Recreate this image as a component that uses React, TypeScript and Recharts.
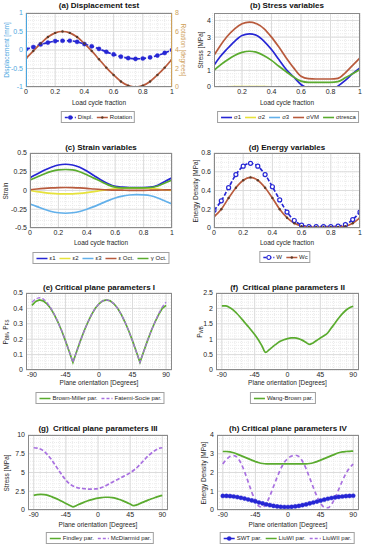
import React from 'react';
import { LineChart, Line, XAxis, YAxis, CartesianGrid } from 'recharts';

const FONT = '"Liberation Sans", Arial, Helvetica, sans-serif';
const INK = '#262626';
const BLUE = '#2626d4';
const BROWN = '#b85a3c';
const GREEN = '#5aab2e';
const YELLOW = '#e6e23a';
const CYAN = '#62b0ea';
const PURPLE = '#a870e0';

// load cycle samples
const cycleX = [0, 0.05, 0.1, 0.15, 0.2, 0.25, 0.3, 0.35, 0.4, 0.45, 0.5, 0.55, 0.6, 0.65, 0.7, 0.75, 0.8, 0.85, 0.9, 0.95, 1];
const cycleXb = [0.01, 0.05, 0.1, 0.15, 0.2, 0.25, 0.3, 0.35, 0.4, 0.45, 0.5, 0.55, 0.6, 0.65, 0.7, 0.75, 0.8, 0.85, 0.9, 0.95, 1];

// (a)
const displ = [0.02, 0.08, 0.15, 0.2, 0.24, 0.25, 0.25, 0.22, 0.16, 0.1, 0.03, -0.05, -0.12, -0.18, -0.22, -0.24, -0.23, -0.2, -0.15, -0.08, 0.0];
const rotation = [3.1, 3.9, 4.7, 5.4, 5.85, 6.0, 5.85, 5.4, 4.7, 3.9, 3.0, 2.1, 1.3, 0.6, 0.15, 0.0, 0.15, 0.6, 1.3, 2.1, 3.0];

// (b)
const sigma1 = [1.3, 1.8, 2.3, 2.75, 3.1, 3.2, 3.1, 2.75, 2.25, 1.65, 1.05, 0.6, 0.15, -0.1, -0.3, -0.35, -0.25, 0.05, 0.4, 0.8, 1.15];
const sigma2 = [-0.05, -0.02, 0.01, 0.02, 0.02, 0.02, 0.02, 0.02, 0.01, -0.02, -0.08, -0.2, -0.35, -0.45, -0.5, -0.5, -0.45, -0.35, -0.25, -0.15, -0.08];
const sigma3 = [-0.5, -0.8, -1.2, -1.5, -1.75, -1.8, -1.75, -1.5, -1.2, -0.85, -0.5, -0.3, -0.15, -0.1, -0.1, -0.1, -0.1, -0.12, -0.2, -0.35, -0.5];
const sigmaVM = [1.9, 2.45, 3.05, 3.5, 3.8, 3.9, 3.8, 3.5, 3.0, 2.4, 1.75, 1.15, 0.65, 0.5, 0.48, 0.48, 0.48, 0.52, 0.85, 1.3, 1.75];
const sigmaTresca = [1.0, 1.3, 1.62, 1.9, 2.08, 2.15, 2.08, 1.88, 1.6, 1.25, 0.92, 0.6, 0.35, 0.28, 0.28, 0.28, 0.28, 0.32, 0.55, 0.8, 1.05];

// (c)
const eps1 = [0.17, 0.22, 0.27, 0.31, 0.34, 0.35, 0.34, 0.31, 0.26, 0.2, 0.14, 0.09, 0.055, 0.045, 0.04, 0.04, 0.04, 0.045, 0.07, 0.12, 0.17];
const eps2 = [0.0, -0.015, -0.028, -0.038, -0.044, -0.045, -0.044, -0.038, -0.028, -0.015, 0.0, 0.012, 0.022, 0.028, 0.03, 0.03, 0.03, 0.025, 0.018, 0.008, 0.0];
const eps3 = [-0.18, -0.215, -0.25, -0.28, -0.297, -0.303, -0.297, -0.28, -0.25, -0.215, -0.175, -0.135, -0.1, -0.075, -0.06, -0.055, -0.058, -0.07, -0.1, -0.14, -0.18];
const epsOct = [0.01, 0.02, 0.028, 0.034, 0.038, 0.04, 0.038, 0.034, 0.028, 0.02, 0.013, 0.008, 0.005, 0.004, 0.003, 0.003, 0.003, 0.004, 0.005, 0.008, 0.01];
const gamOct = [0.14, 0.18, 0.22, 0.255, 0.275, 0.28, 0.275, 0.25, 0.21, 0.165, 0.12, 0.075, 0.045, 0.035, 0.035, 0.035, 0.035, 0.04, 0.06, 0.1, 0.14];

// (d)
const energyW = [0.19, 0.29, 0.43, 0.57, 0.66, 0.69, 0.66, 0.57, 0.44, 0.3, 0.17, 0.08, 0.03, 0.015, 0.015, 0.015, 0.015, 0.02, 0.035, 0.09, 0.17];
const energyWc = [0.12, 0.2, 0.32, 0.43, 0.51, 0.54, 0.51, 0.43, 0.32, 0.2, 0.11, 0.05, 0.02, 0.01, 0.01, 0.01, 0.01, 0.012, 0.02, 0.05, 0.11];

// plane orientations
const angles = [-90, -85, -80, -75, -70, -65, -60, -55, -50, -45, -40, -35, -30, -25, -20, -15, -10, -5, 0, 5, 10, 15, 20, 25, 30, 35, 40, 45, 50, 55, 60, 65, 70, 75, 80, 85, 90];

// (e)
const brownMiller = [0.42, 0.445, 0.455, 0.449, 0.43, 0.401, 0.36, 0.31, 0.253, 0.189, 0.12, 0.05, 0.12, 0.189, 0.253, 0.31, 0.36, 0.401, 0.43, 0.449, 0.455, 0.449, 0.43, 0.401, 0.36, 0.31, 0.253, 0.189, 0.12, 0.05, 0.12, 0.189, 0.253, 0.31, 0.36, 0.401, 0.42];
const fatemiSocie = [0.44, 0.462, 0.47, 0.462, 0.44, 0.405, 0.362, 0.31, 0.253, 0.189, 0.12, 0.05, 0.12, 0.189, 0.253, 0.31, 0.36, 0.401, 0.43, 0.449, 0.455, 0.449, 0.43, 0.401, 0.36, 0.31, 0.253, 0.189, 0.12, 0.05, 0.12, 0.189, 0.253, 0.31, 0.365, 0.41, 0.44];

// (f)
const wangBrown = [2.08, 2.08, 2.04, 1.96, 1.85, 1.72, 1.58, 1.44, 1.3, 1.15, 0.98, 0.78, 0.57, 0.66, 0.76, 0.85, 0.93, 0.98, 1.02, 1.04, 1.04, 1.02, 0.97, 0.9, 0.83, 0.88, 0.96, 1.04, 1.11, 1.2, 1.36, 1.52, 1.68, 1.82, 1.94, 2.02, 2.07];

// (g)
const findley = [1.95, 2.05, 2.08, 2.05, 1.95, 1.78, 1.58, 1.36, 1.12, 0.88, 0.64, 0.42, 0.6, 0.82, 1.02, 1.2, 1.35, 1.48, 1.58, 1.65, 1.7, 1.7, 1.65, 1.55, 1.4, 1.22, 1.02, 0.8, 0.58, 0.7, 0.92, 1.12, 1.32, 1.5, 1.66, 1.82, 1.95];
const mcDiarmid = [8.3, 8.25, 8.1, 7.8, 7.3, 6.7, 6.0, 5.3, 4.6, 4.0, 3.5, 3.2, 3.0, 2.9, 2.85, 2.8, 2.78, 2.8, 2.85, 3.0, 3.2, 3.45, 3.7, 3.95, 4.2, 4.45, 4.7, 4.95, 5.3, 5.7, 6.2, 6.7, 7.2, 7.6, 7.95, 8.2, 8.3];

// (h)
const swt = [0.75, 0.75, 0.74, 0.72, 0.69, 0.65, 0.61, 0.56, 0.51, 0.46, 0.4, 0.35, 0.3, 0.26, 0.22, 0.19, 0.17, 0.16, 0.16, 0.17, 0.19, 0.22, 0.26, 0.3, 0.35, 0.4, 0.45, 0.5, 0.55, 0.6, 0.64, 0.67, 0.7, 0.72, 0.74, 0.75, 0.76];
const liuWI = [3.12, 3.12, 3.1, 3.05, 2.98, 2.9, 2.82, 2.74, 2.66, 2.58, 2.52, 2.48, 2.46, 2.46, 2.46, 2.46, 2.46, 2.46, 2.46, 2.46, 2.46, 2.46, 2.46, 2.46, 2.48, 2.52, 2.58, 2.66, 2.74, 2.82, 2.9, 2.98, 3.05, 3.1, 3.12, 3.13, 3.14];
const liuWII = [2.45, 2.7, 2.85, 2.9, 2.8, 2.5, 2.05, 1.5, 0.95, 0.5, 0.2, 0.15, 0.35, 0.75, 1.25, 1.75, 2.2, 2.55, 2.75, 2.88, 2.92, 2.85, 2.6, 2.2, 1.7, 1.2, 0.72, 0.35, 0.15, 0.12, 0.3, 0.65, 1.1, 1.55, 1.95, 2.25, 2.45];

const cycleTicks = [0, 0.2, 0.4, 0.6, 0.8, 1];
const angleTicks = [-90, -45, 0, 45, 90];

// grid line positions (minor grid)
const steps = (a: number, b: number, s: number) => {
  const out: number[] = [];
  for (let v = a; v <= b + 1e-9; v += s) out.push(Math.round(v * 1000) / 1000);
  return out;
};

type Ser = {
  key: string;
  name: string;
  color: string;
  dash?: string;
  width?: number;
  dot?: 'open' | 'small' | 'fill';
  axis?: string;
  curve?: 'linear' | 'monotone';
};

const Marker = ({ s, cx, cy }: { s: Ser; cx: number; cy: number }) => {
  if (s.dot === 'open') return <circle cx={cx} cy={cy} r={2} fill="#fff" stroke={s.color} strokeWidth={1.2} />;
  if (s.dot === 'fill') return <circle cx={cx} cy={cy} r={2.1} fill={s.color} stroke={s.color} strokeWidth={0.4} />;
  if (s.dot === 'small') return <circle cx={cx} cy={cy} r={1.2} fill="#5a3a28" />;
  return null;
};

const makeDot = (s: Ser) => {
  if (!s.dot) return false;
  return (props: any) => {
    const { cx, cy, index } = props;
    if (cx == null || cy == null) return <g key={index} />;
    return (
      <g key={index}>
        <Marker s={s} cx={cx} cy={cy} />
      </g>
    );
  };
};

type RightAxis = { domain: [number, number]; ticks: number[]; label: string; color: string; labelX: number };

type PanelProps = {
  box: [number, number, number, number];
  data: Record<string, number>[];
  series: Ser[];
  xDomain: [number, number];
  xTicks: number[];
  xMinor: number[];
  yDomain: [number, number];
  yTicks: number[];
  yMinor: number[];
  title: string;
  titleY: number;
  xLabel: string;
  xLabelY: number;
  yLabel: React.ReactNode;
  yLabelX: number;
  yColor?: string;
  right?: RightAxis;
  legendX: number;
  legendY: number;
};

const Legend = ({ x, y, items }: { x: number; y: number; items: Ser[] }) => (
  <div
    style={{
      position: 'absolute',
      left: x,
      top: y,
      transform: 'translate(-50%,-50%)',
      border: '1px solid #a0a0a0',
      background: '#fff',
      padding: '1px 2px',
      display: 'flex',
      alignItems: 'center',
      whiteSpace: 'nowrap',
      fontFamily: FONT,
      fontSize: 6,
      color: INK,
      lineHeight: '8px',
    }}
  >
    {items.map((s, i) => (
      <span key={s.key} style={{ display: 'flex', alignItems: 'center', marginLeft: i ? 3 : 0 }}>
        <svg width={13} height={7}>
          <line x1={1} y1={3.5} x2={12} y2={3.5} stroke={s.color} strokeWidth={1.6} strokeDasharray={s.dash ? '3 2' : undefined} />
          <Marker s={s} cx={6.5} cy={3.5} />
        </svg>
        <span style={{ marginLeft: 1 }}>{s.name}</span>
      </span>
    ))}
  </div>
);

const Panel = (p: PanelProps) => {
  const [x0, y0, x1, y1] = p.box;
  const yW = 34;
  const rW = p.right ? 14 : 0;
  const mt = 6;
  const mr = p.right ? 0 : 6;
  const xH = 16;
  const W = yW + (x1 - x0) + rW + mr;
  const H = mt + (y1 - y0) + xH;
  const tick = { fontSize: 7, fill: INK, fontFamily: FONT };
  const cx = (x0 + x1) / 2;
  const cy = (y0 + y1) / 2;
  const label: React.CSSProperties = { position: 'absolute', fontFamily: FONT, fontSize: 6.5, color: INK, whiteSpace: 'nowrap', lineHeight: 1 };
  return (
    <>
      <div style={{ position: 'absolute', left: x0 - yW, top: y0 - mt }}>
        <LineChart width={W} height={H} data={p.data} margin={{ top: mt, right: mr, left: 0, bottom: 0 }}>
          <CartesianGrid yAxisId="l" horizontalValues={p.yMinor} verticalValues={p.xMinor} stroke="#ebebeb" strokeDasharray="1 1" />
          <CartesianGrid yAxisId="l" horizontalValues={p.yTicks} verticalValues={p.xTicks} stroke="#dcdcdc" />
          <XAxis
            type="number"
            dataKey="x"
            domain={p.xDomain}
            ticks={p.xTicks}
            allowDataOverflow
            interval={0}
            height={xH}
            tickLine={false}
            tickSize={2}
            tickMargin={0}
            axisLine={false}
            tick={tick}
          />
          <YAxis
            yAxisId="l"
            type="number"
            domain={p.yDomain}
            ticks={p.yTicks}
            allowDataOverflow
            interval={0}
            width={yW}
            tickLine={false}
            tickSize={3}
            tickMargin={0}
            axisLine={false}
            tick={{ ...tick, fill: p.yColor ?? INK }}
          />
          {p.right && (
            <YAxis
              yAxisId="r"
              orientation="right"
              type="number"
              domain={p.right.domain}
              ticks={p.right.ticks}
              allowDataOverflow
              interval={0}
              width={rW}
              tickLine={false}
              tickSize={3}
              tickMargin={0}
              axisLine={false}
              tick={{ ...tick, fill: p.right.color }}
            />
          )}
          {p.series.map((s) => (
            <Line
              key={s.key}
              yAxisId={s.axis ?? 'l'}
              dataKey={s.key}
              type={s.curve ?? 'monotone'}
              stroke={s.color}
              strokeWidth={s.width ?? 1.7}
              strokeDasharray={s.dash}
              dot={makeDot(s)}
              activeDot={false}
              isAnimationActive={false}
            />
          ))}
        </LineChart>
      </div>
      <div
        style={{
          position: 'absolute',
          left: x0,
          top: y0,
          width: x1 - x0,
          height: y1 - y0,
          boxSizing: 'border-box',
          border: '1px solid #8a8a8a',
          borderLeftColor: p.yColor ?? '#8a8a8a',
          borderRightColor: p.right ? p.right.color : '#8a8a8a',
          pointerEvents: 'none',
        }}
      />
      <div style={{ ...label, left: cx, top: p.titleY, transform: 'translate(-50%,-50%)', fontSize: 8, fontWeight: 'bold', color: '#111', whiteSpace: 'pre' }}>
        {p.title}
      </div>
      <div style={{ ...label, left: cx, top: p.xLabelY, transform: 'translate(-50%,-50%)' }}>{p.xLabel}</div>
      <div style={{ ...label, left: p.yLabelX, top: cy, transform: 'translate(-50%,-50%) rotate(-90deg)', color: p.yColor ?? INK }}>
        {p.yLabel}
      </div>
      {p.right && (
        <div style={{ ...label, left: p.right.labelX, top: cy, transform: 'translate(-50%,-50%) rotate(90deg)', color: p.right.color }}>
          {p.right.label}
        </div>
      )}
      <Legend x={p.legendX} y={p.legendY} items={p.series} />
    </>
  );
};

const rowsA = cycleX.map((x, i) => ({ x, displ: displ[i], rot: rotation[i] }));
const rowsB = cycleXb.map((x, i) => ({ x, s1: sigma1[i], s2: sigma2[i], s3: sigma3[i], svm: sigmaVM[i], str: sigmaTresca[i] }));
const rowsC = cycleX.map((x, i) => ({ x, e1: eps1[i], e2: eps2[i], e3: eps3[i], eo: epsOct[i], go: gamOct[i] }));
const rowsD = cycleX.map((x, i) => ({ x, w: energyW[i], wc: energyWc[i] }));
const rowsE = angles.map((x, i) => ({ x, bm: brownMiller[i], fs: fatemiSocie[i] }));
const rowsF = angles.map((x, i) => ({ x, wb: wangBrown[i] }));
const rowsG = angles.map((x, i) => ({ x, fi: findley[i], mc: mcDiarmid[i] }));
const rowsH = angles.map((x, i) => ({ x, swt: swt[i], l1: liuWI[i], l2: liuWII[i] }));

const cycleMinor = steps(0, 1, 0.05);
const angleMinor = steps(-90, 90, 9);

const P = (s: string, sub: string) => (
  <span>
    {s}
    <span style={{ fontSize: 4.5, verticalAlign: '-1px' }}>{sub}</span>
  </span>
);

export default function App() {
  return (
    <div style={{ position: 'relative', width: 368, height: 550, background: '#fff', overflow: 'hidden' }}>
      <style>{'body{margin:0;background:#fff}'}</style>
      <Panel
        box={[26, 13, 172, 87]}
        data={rowsA}
        series={[
          { key: 'displ', name: 'Displ.', color: BLUE, dash: '4 2', dot: 'fill' },
          { key: 'rot', name: 'Rotation', color: BROWN, dot: 'small', axis: 'r' },
        ]}
        xDomain={[0, 1]}
        xTicks={cycleTicks}
        xMinor={cycleMinor}
        yDomain={[-1, 1]}
        yTicks={[-1, -0.5, 0, 0.5, 1]}
        yMinor={steps(-1, 1, 0.1)}
        yColor="#4aa6e0"
        right={{ domain: [0, 8], ticks: [0, 2, 4, 6, 8], label: 'Rotation [degrees]', color: '#cfa15a', labelX: 183 }}
        title="(a) Displacement test"
        titleY={6}
        xLabel="Load cycle fraction"
        xLabelY={103}
        yLabel="Displacement [mm]"
        yLabelX={7}
        legendX={98}
        legendY={117}
      />
      <Panel
        box={[214, 13, 360, 87]}
        data={rowsB}
        series={[
          { key: 's1', name: 'σ1', color: BLUE },
          { key: 's2', name: 'σ2', color: YELLOW },
          { key: 's3', name: 'σ3', color: CYAN },
          { key: 'svm', name: 'σVM', color: BROWN },
          { key: 'str', name: 'σtresca', color: GREEN },
        ]}
        xDomain={[0.01, 1]}
        xTicks={[0.2, 0.4, 0.6, 0.8, 1]}
        xMinor={cycleMinor}
        yDomain={[0, 4.45]}
        yTicks={[0, 1, 2, 3, 4]}
        yMinor={steps(0, 4.4, 0.2)}
        title="(b) Stress variables"
        titleY={6}
        xLabel="Load cycle fraction"
        xLabelY={103}
        yLabel="Stress [MPa]"
        yLabelX={201}
        legendX={288}
        legendY={117}
      />
      <Panel
        box={[30, 153, 172, 228]}
        data={rowsC}
        series={[
          { key: 'e1', name: 'ε1', color: BLUE },
          { key: 'e2', name: 'ε2', color: YELLOW },
          { key: 'e3', name: 'ε3', color: CYAN },
          { key: 'eo', name: 'ε Oct.', color: BROWN },
          { key: 'go', name: 'γ Oct.', color: GREEN },
        ]}
        xDomain={[0, 1]}
        xTicks={cycleTicks}
        xMinor={cycleMinor}
        yDomain={[-0.5, 0.5]}
        yTicks={[-0.5, -0.25, 0, 0.25, 0.5]}
        yMinor={steps(-0.5, 0.5, 0.05)}
        title="(c) Strain variables"
        titleY={148}
        xLabel="Load cycle fraction"
        xLabelY={243}
        yLabel="Strain"
        yLabelX={6}
        legendX={101}
        legendY={258}
      />
      <Panel
        box={[214, 153, 360, 228]}
        data={rowsD}
        series={[
          { key: 'w', name: 'W', color: BLUE, dash: '4 2', dot: 'open' },
          { key: 'wc', name: 'Wc', color: BROWN, dot: 'small' },
        ]}
        xDomain={[0, 1]}
        xTicks={cycleTicks}
        xMinor={cycleMinor}
        yDomain={[0, 0.8]}
        yTicks={[0, 0.2, 0.4, 0.6, 0.8]}
        yMinor={steps(0, 0.8, 0.05)}
        title="(d) Energy variables"
        titleY={148}
        xLabel="Load cycle fraction"
        xLabelY={243}
        yLabel="Energy Density [MPa]"
        yLabelX={196}
        legendX={285}
        legendY={257}
      />
      <Panel
        box={[26, 293, 172, 370]}
        data={rowsE}
        series={[
          { key: 'bm', name: 'Brown-Miller par.', color: GREEN, curve: 'linear' },
          { key: 'fs', name: 'Fatemi-Socie par.', color: PURPLE, dash: '4 2', curve: 'linear', width: 1.2 },
        ]}
        xDomain={[-98, 98]}
        xTicks={angleTicks}
        xMinor={angleMinor}
        yDomain={[0, 0.5]}
        yTicks={[0, 0.1, 0.2, 0.3, 0.4, 0.5]}
        yMinor={steps(0, 0.5, 0.02)}
        title="(e) Critical plane parameters I"
        titleY={288}
        xLabel="Plane orientation [Degrees]"
        xLabelY={383}
        yLabel={
          <span>
            {P('P', 'BM')}, {P('P', 'FS')}
          </span>
        }
        yLabelX={7}
        legendX={100}
        legendY={398}
      />
      <Panel
        box={[216, 293, 359, 370]}
        data={rowsF}
        series={[{ key: 'wb', name: 'Wang-Brown par.', color: GREEN }]}
        xDomain={[-98, 98]}
        xTicks={angleTicks}
        xMinor={angleMinor}
        yDomain={[0, 2.5]}
        yTicks={[0, 0.5, 1, 1.5, 2, 2.5]}
        yMinor={steps(0, 2.5, 0.1)}
        title="(f)  Critical plane parameters II"
        titleY={288}
        xLabel="Plane orientation [Degrees]"
        xLabelY={383}
        yLabel={P('P', 'WB')}
        yLabelX={201}
        legendX={283}
        legendY={398}
      />
      <Panel
        box={[28, 435, 168, 510]}
        data={rowsG}
        series={[
          { key: 'fi', name: 'Findley par.', color: GREEN },
          { key: 'mc', name: 'McDiarmid par.', color: PURPLE, dash: '4 2' },
        ]}
        xDomain={[-98, 98]}
        xTicks={angleTicks}
        xMinor={angleMinor}
        yDomain={[0, 10]}
        yTicks={[0, 2.5, 5, 7.5, 10]}
        yMinor={steps(0, 10, 0.5)}
        title="(g)  Critical plane parameters III"
        titleY={429}
        xLabel="Plane orientation [Degrees]"
        xLabelY={525}
        yLabel="Stress [MPa]"
        yLabelX={7}
        legendX={100}
        legendY={538}
      />
      <Panel
        box={[217, 435, 359, 510]}
        data={rowsH}
        series={[
          { key: 'swt', name: 'SWT par.', color: BLUE, dot: 'fill' },
          { key: 'l1', name: 'LiuWI par.', color: GREEN },
          { key: 'l2', name: 'LiuWII par.', color: PURPLE, dash: '4 3' },
        ]}
        xDomain={[-98, 98]}
        xTicks={angleTicks}
        xMinor={angleMinor}
        yDomain={[0, 4]}
        yTicks={[0, 1, 2, 3, 4]}
        yMinor={steps(0, 4, 0.2)}
        title="(h) Critical plane parameters IV"
        titleY={429}
        xLabel="Plane orientation [Degrees]"
        xLabelY={525}
        yLabel="Energy Density [MPa]"
        yLabelX={204}
        legendX={287}
        legendY={538}
      />
    </div>
  );
}
